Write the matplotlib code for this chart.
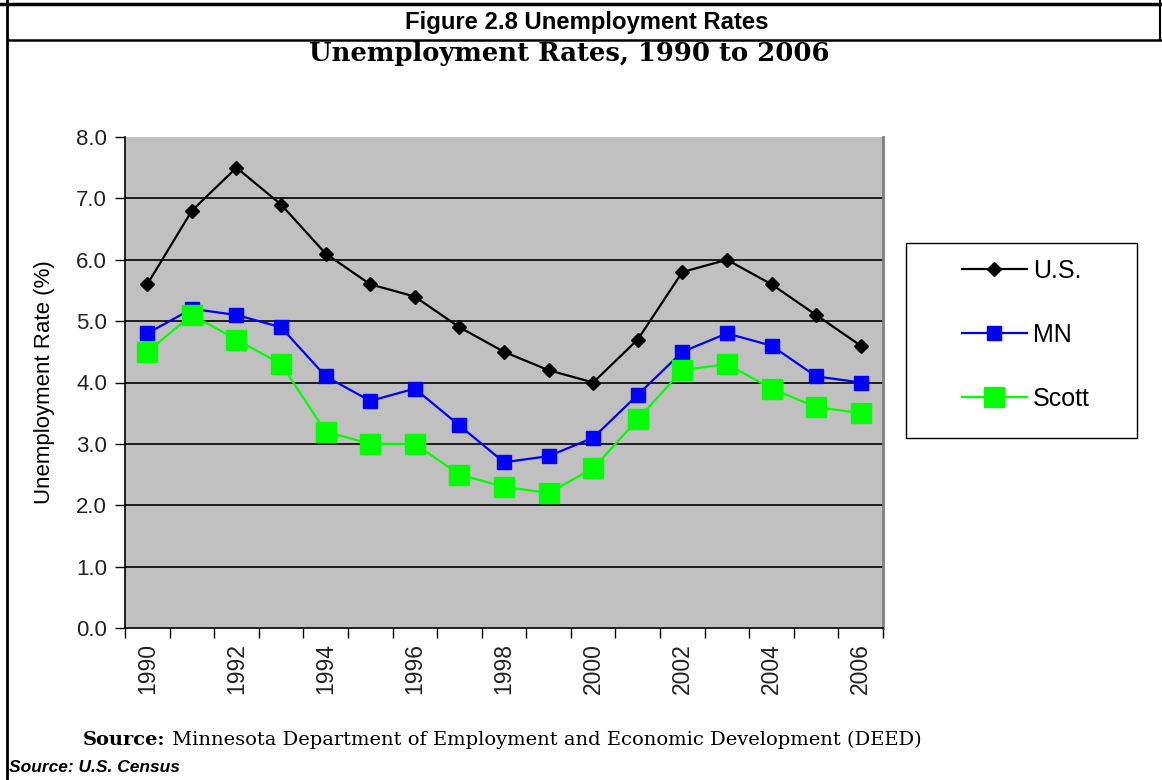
import matplotlib
matplotlib.use("Agg")
import matplotlib.pyplot as plt
from matplotlib.lines import Line2D
from matplotlib.patches import Rectangle
import numpy as np

# data
years = [1990, 1991, 1992, 1993, 1994, 1995, 1996, 1997, 1998,
         1999, 2000, 2001, 2002, 2003, 2004, 2005, 2006]
us = [5.6, 6.8, 7.5, 6.9, 6.1, 5.6, 5.4, 4.9, 4.5, 4.2, 4.0, 4.7, 5.8, 6.0, 5.6, 5.1, 4.6]
mn = [4.8, 5.2, 5.1, 4.9, 4.1, 3.7, 3.9, 3.3, 2.7, 2.8, 3.1, 3.8, 4.5, 4.8, 4.6, 4.1, 4.0]
scott = [4.5, 5.1, 4.7, 4.3, 3.2, 3.0, 3.0, 2.5, 2.3, 2.2, 2.6, 3.4, 4.2, 4.3, 3.9, 3.6, 3.5]

W, H = 1162, 780
fig = plt.figure(figsize=(W / 100, H / 100), dpi=100)
sans = ['Liberation Sans', 'DejaVu Sans']
narrow = ['Liberation Sans Narrow', 'DejaVu Sans Condensed', 'Liberation Sans', 'DejaVu Sans']
serif = ['DejaVu Serif', 'Liberation Serif']

ax = fig.add_axes([125 / W, 1 - 628 / H, (883 - 125) / W, (628 - 137) / H])
ax.set_facecolor('#C0C0C0')

x = np.arange(len(years))
ax.plot(x, us, color='black', lw=1.6, marker='D', ms=7, label='U.S.', zorder=3)
ax.plot(x, mn, color='#0000FF', lw=1.6, marker='s', ms=9.5, label='MN', zorder=4)
ax.plot(x, scott, color='#00FF00', lw=1.6, marker='s', ms=15, label='Scott', zorder=5)

ax.set_xlim(-0.5, len(years) - 0.5)
ax.set_ylim(0, 8)
yt = np.arange(0, 9, 1.0)
ax.set_yticks(yt)
ax.set_yticklabels(['%.1f' % v for v in yt], fontsize=16, family=sans, color='#222222')
for v in yt[1:-1]:
    ax.axhline(v, color='black', lw=1.2, zorder=1)

# ticks between categories, labels on even years
ax.set_xticks(np.arange(-0.5, len(years), 1.0))
ax.set_xticklabels([])
ax.set_xticks(x[::2], minor=True)
ax.set_xticklabels([str(y) for y in years[::2]], minor=True, rotation=90,
                   fontsize=16.5, family=sans, color='#222222')
ax.tick_params(axis='x', which='major', length=7, direction='out', width=1)
ax.tick_params(axis='x', which='minor', length=0, pad=11)
ax.tick_params(axis='y', length=7, width=1, pad=6)

for s in ['left', 'bottom']:
    ax.spines[s].set_color('black')
    ax.spines[s].set_linewidth(1.2)
ax.spines['right'].set_color('#808080')
ax.spines['right'].set_linewidth(2)
ax.spines['top'].set_visible(False)

ax.set_ylabel('Unemployment Rate (%)', fontsize=16, family=sans, labelpad=15)

# legend with a separate box
fig.add_artist(Rectangle((906 / W, 1 - 438 / H), (1137 - 906) / W, (438 - 243) / H,
                         transform=fig.transFigure, fill=False, ec='black', lw=1))
fig.legend(loc='center', bbox_to_anchor=(1026 / W, 1 - 335 / H), frameon=False,
           prop={'family': sans, 'size': 18}, handlelength=2.6, labelspacing=1.6,
           handletextpad=0.25)

# outer frame lines
fig.add_artist(Line2D([0, 1], [1 - 4 / H, 1 - 4 / H], transform=fig.transFigure,
                      color='black', lw=2.5))
fig.add_artist(Line2D([8 / W, 1], [1 - 40 / H, 1 - 40 / H], transform=fig.transFigure,
                      color='black', lw=1.8))
fig.add_artist(Line2D([7 / W, 7 / W], [0, 1], transform=fig.transFigure,
                      color='black', lw=2))
fig.add_artist(Line2D([1 - 2 / W, 1 - 2 / W], [1 - 40 / H, 1], transform=fig.transFigure,
                      color='black', lw=1.5))

fig.text(587 / W, 1 - 22 / H, 'Figure 2.8 Unemployment Rates', ha='center', va='center',
         fontsize=17.2, fontweight='bold', family=narrow)
fig.text(569 / W, 1 - 53 / H, 'Unemployment Rates, 1990 to 2006', ha='center',
         va='center', fontsize=18.6, fontweight='bold', family=serif)

t1 = fig.text(83 / W, 1 - 740 / H, 'Source:', ha='left', va='center', fontsize=14,
              fontweight='bold', family=serif)
ax.annotate(' Minnesota Department of Employment and Economic Development (DEED)',
            xy=(1, 0.5), xycoords=t1, ha='left', va='center', fontsize=14,
            family=serif, annotation_clip=False)
fig.text(9 / W, 1 - 767 / H, 'Source: U.S. Census', ha='left', va='center', fontsize=12.5,
         fontweight='bold', style='italic', family=narrow)

fig.savefig('out.png', dpi=100)
